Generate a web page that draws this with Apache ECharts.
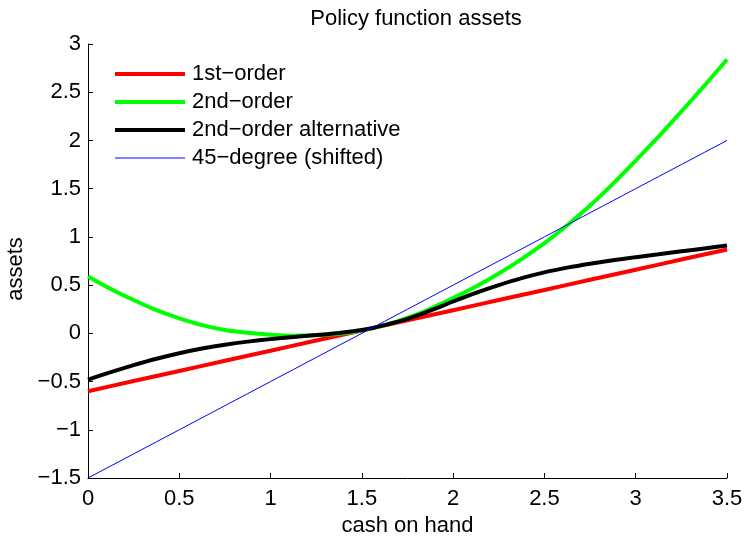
<!DOCTYPE html>
<html><head><meta charset="utf-8">
<script src="https://cdn.jsdelivr.net/npm/echarts@6/dist/echarts.min.js"></script>
<style>html,body{margin:0;padding:0;background:#fff}#c{width:745px;height:536px}</style>
</head><body><div id="c"></div>
<script>
const xs = [0, 0.125, 0.25, 0.375, 0.5, 0.625, 0.75, 0.875, 1.0, 1.125, 1.25, 1.375, 1.5, 1.625, 1.75, 1.875,
            2.0, 2.125, 2.25, 2.375, 2.5, 2.625, 2.75, 2.875, 3.0, 3.125, 3.25, 3.375, 3.5];
const firstOrder = [-0.60, -0.5475, -0.495, -0.4425, -0.39, -0.3375, -0.285, -0.2325, -0.18, -0.1275, -0.075, -0.0225, 0.03, 0.0825, 0.135, 0.1875,
                    0.24, 0.2925, 0.345, 0.3975, 0.45, 0.5025, 0.555, 0.6075, 0.66, 0.7125, 0.765, 0.8175, 0.87];
const secondOrder = [0.59, 0.46, 0.345, 0.24, 0.155, 0.085, 0.035, 0.005, -0.015, -0.025, -0.02, -0.005, 0.03, 0.085, 0.16, 0.255,
                     0.365, 0.485, 0.62, 0.77, 0.935, 1.12, 1.325, 1.55, 1.79, 2.04, 2.30, 2.565, 2.84];
const secondAlt = [-0.48, -0.402, -0.33, -0.264, -0.206, -0.158, -0.118, -0.086, -0.06, -0.038, -0.018, 0.004, 0.034, 0.085, 0.15, 0.235,
                   0.33, 0.42, 0.50, 0.572, 0.632, 0.681, 0.722, 0.758, 0.79, 0.82, 0.85, 0.88, 0.91];
const deg45 = [-1.5, -1.375, -1.25, -1.125, -1.0, -0.875, -0.75, -0.625, -0.5, -0.375, -0.25, -0.125, 0, 0.125, 0.25, 0.375,
               0.5, 0.625, 0.75, 0.875, 1.0, 1.125, 1.25, 1.375, 1.5, 1.625, 1.75, 1.875, 2.0];
const names = ['1st\u2212order', '2nd\u2212order', '2nd\u2212order alternative', '45\u2212degree (shifted)'];
const xTicks = {min: 0, max: 3.5, interval: 0.5};
const yTicks = {min: -1.5, max: 3, interval: 0.5};

const pairs = ys => xs.map((x, i) => [x, ys[i]]);
const font = 'Liberation Sans, Arial, Helvetica, sans-serif';
const FS = 22;
const fmt = v => String(+v.toFixed(2)).replace('-', '\u2212');
const chart = echarts.init(document.getElementById('c'), null, {renderer: 'canvas'});
const axisCommon = {
  axisLine: {show: true, onZero: false, lineStyle: {color: '#000', width: 1}},
  axisTick: {show: true, inside: true, length: 5, lineStyle: {color: '#000'}},
  splitLine: {show: false}
};
const lbl = m => ({color: '#000', fontSize: FS, fontFamily: font, formatter: fmt, margin: m});
chart.setOption({
  animation: false,
  backgroundColor: '#fff',
  title: {text: 'Policy function assets', left: 411, textAlign: 'center', top: 3,
    textStyle: {color: '#000', fontSize: FS, fontWeight: 'normal', fontFamily: font}},
  grid: {left: 88, right: 18, top: 44, bottom: 58, containLabel: false, outerBoundsMode: 'none'},
  legend: {
    orient: 'vertical', left: 113, top: 63, padding: 0, itemWidth: 70, itemHeight: 14, itemGap: 6,
    itemStyle: {opacity: 0},
    lineStyle: {width: 'inherit'},
    textStyle: {color: '#000', fontSize: FS, fontFamily: font, padding: [0, 0, 0, 2]},
    data: names
  },
  xAxis: Object.assign({type: 'value', min: xTicks.min, max: xTicks.max, interval: xTicks.interval,
    name: 'cash on hand', nameLocation: 'middle', nameGap: 34,
    nameTextStyle: {color: '#000', fontSize: FS, fontFamily: font}}, axisCommon, {axisLabel: lbl(10)}),
  yAxis: Object.assign({type: 'value', min: yTicks.min, max: yTicks.max, interval: yTicks.interval,
    name: 'assets', nameLocation: 'middle', nameGap: 59,
    nameTextStyle: {color: '#000', fontSize: FS, fontFamily: font, padding: [0, 16, 0, 0]}}, axisCommon, {axisLabel: lbl(7)}),
  series: [
    {name: names[0], type: 'line', data: pairs(firstOrder), showSymbol: false, symbol: 'none',
      lineStyle: {color: '#ff0000', width: 4}, itemStyle: {color: '#ff0000'}},
    {name: names[1], type: 'line', data: pairs(secondOrder), smooth: 0.2, showSymbol: false, symbol: 'none',
      lineStyle: {color: '#00ff00', width: 4}, itemStyle: {color: '#00ff00'}},
    {name: names[2], type: 'line', data: pairs(secondAlt), smooth: 0.2, showSymbol: false, symbol: 'none',
      lineStyle: {color: '#000000', width: 4}, itemStyle: {color: '#000000'}},
    {name: names[3], type: 'line', data: pairs(deg45), showSymbol: false, symbol: 'none',
      lineStyle: {color: '#0000ff', width: 1}, itemStyle: {color: '#0000ff'}}
  ]
});
</script></body></html>
